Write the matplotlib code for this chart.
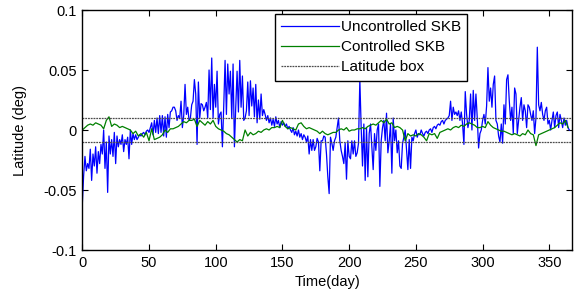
import numpy as np
import matplotlib
matplotlib.use('Agg')
import matplotlib.pyplot as plt

plt.rcParams['font.family'] = ['Liberation Sans', 'DejaVu Sans']

# latitude values in milli-degrees
# uncontrolled: one value per day, day 0..365
uncontrolled = [
    -62, -38, -22, -34, -28, -32, -16, -42, -20, -30,
    -14, -36, -18, -28, -12, -20, 0, -32, -10, -52,
    -5, -20, -8, -22, -2, -28, -5, -14, -8, -12,
    -4, -18, -8, -12, -6, -24, 0, -12, -3, -8,
    -4, -8, -6, -4, -5, -3, -2, -4, -1, 0,
    -2, 2, 6, -4, 8, -2, 10, -3, 12, -2,
    12, -5, 11, -6, 13, 2, 15, 16, 19, 19,
    16, 8, 12, 10, 24, 2, 12, 38, 13, 19,
    8, 10, 21, 24, 42, 30, -12, 40, 10, 22,
    21, 16, 19, 23, 10, 50, 17, 60, 10, 38,
    19, 49, 5, 13, 15, -14, 20, 58, 13, 55,
    30, 49, 10, 55, -14, 19, 49, 15, 58, 19,
    45, 8, 10, 16, 40, 12, 41, 20, 35, 11,
    38, 6, 25, 9, 30, 12, 17, 13, 8, 12,
    6, 10, 4, 9, 3, 11, 5, 8, 2, 7,
    4, 6, 3, 5, 1, 3, 0, -2, 2, -4,
    -1, -5, 0, -6, -3, -8, -4, -6, -10, -5,
    -20, -8, -17, -8, -17, -14, -7, -10, -34, -9,
    -9, -5, -6, -20, -39, -53, -6, -11, -17, -9,
    -6, 2, 10, -9, -17, -22, -28, -11, -41, -9,
    -22, -24, -9, -20, -9, -22, -19, -11, 42, 2,
    -30, 5, -42, 2, -39, -3, 5, -14, -33, -3,
    -17, 0, 5, -47, -9, 2, 8, -9, 14, -19,
    -9, 5, -36, 10, -9, 0, -19, -9, -30, -32,
    -11, -6, 0, -17, -33, -8, -32, -6, -9, -3,
    0, -6, -3, -4, 0, -3, -5, -2, -1, -3,
    0, 1, -2, 2, 3, 1, 4, 5, 4, 7,
    8, 5, 8, 9, 10, 12, 24, 8, 19, 13,
    15, 12, 16, 8, 15, 5, -12, 32, 13, 2,
    8, 30, 0, 33, 8, 30, 10, -15, -3, 0,
    8, 13, 5, 20, 52, 24, 35, 19, 38, 45,
    8, 5, -5, -10, 5, -11, 21, 5, 42, 46,
    24, 8, 19, -3, 35, 30, -3, 8, 19, 27,
    8, 21, 16, 2, 21, 19, 13, 8, 16, -3,
    10, 69, 21, 16, 23, 13, 8, 16, 19, 5,
    8, 0, 8, 15, 2, 12, 15, 2, 13, 8,
    2, 10, 4, 8, 2, 0,
]

# controlled: every second day, day 0..364
controlled = [
    0, 2, 4, 5, 4, 6, 5, 4, 1, 8,
    11, 3, 5, 4, 2, 3, 2, 1, 0, -3,
    -1, -5, -3, -6, -2, -9, 1, -8, -7, -6,
    -4, 0, -2, 1, 1, 2, 3, 5, 7, 6,
    8, 8, 9, 3, 8, 6, 4, 7, 5, 8,
    3, 1, 0, -1, -3, -4, -6, -8, -10, -8,
    -9, 0, -5, -2, -4, -3, -1, -2, 0, 1,
    0, 2, 2, 3, 2, 8, 3, 1, 2, 1,
    0, 5, 6, 3, 1, 2, 1, 0, -1, -3,
    -1, -3, -4, -3, -2, -2, 0, 1, 0, 2,
    -1, 0, 0, 1, 1, 2, 1, 3, 4, 5,
    4, 6, 8, 6, 9, 5, 6, 2, 3, 2,
    0, -9, -3, -5, -4, -5, -3, -4, -6, -9,
    -3, -4, -3, -7, -2, -1, 0, 1, 0, 2,
    3, 2, 4, 3, 5, 6, 5, 4, 2, 2,
    3, 2, 7, 4, 2, 1, 0, -1, -1, -2,
    -3, -4, -3, -4, -5, -3, -4, 0, -3, -4,
    -13, -4, -3, -2, -1, 0, 1, 2, 4, 6,
    5, 8, 2,
]

box_limit = 0.01
x_ticks = [0, 50, 100, 150, 200, 250, 300, 350]
y_ticks = [-0.1, -0.05, 0, 0.05, 0.1]
y_tick_labels = ['-0.1', '-0.05', '0', '0.05', '0.1']

days_u = np.arange(len(uncontrolled))
days_c = np.arange(len(controlled)) * 2
lat_u = np.array(uncontrolled) / 1000.0
lat_c = np.array(controlled) / 1000.0

fig = plt.figure(figsize=(5.76, 2.98), dpi=100)
ax = fig.add_axes([82.3 / 576, 48 / 298, 489.7 / 576, 240 / 298])

ax.plot(days_u, lat_u, color='#0000ff', lw=0.9, label='Uncontrolled SKB')
ax.plot(days_c, lat_c, color='#008000', lw=0.9, label='Controlled SKB')
ax.axhline(box_limit, color='0.3', lw=0.9, ls=(0, (1.5, 0.7)), label='Latitude box')
ax.axhline(-box_limit, color='0.3', lw=0.9, ls=(0, (1.5, 0.7)))

ax.set_xlim(0, 367)
ax.set_ylim(-0.1, 0.1)
ax.set_xticks(x_ticks)
ax.set_yticks(y_ticks)
ax.set_yticklabels(y_tick_labels)
ax.tick_params(direction='in', top=True, right=True, length=4, width=0.8,
               labelsize=10.5, pad=4)
for s in ax.spines.values():
    s.set_linewidth(1.0)

ax.set_xlabel('Time(day)', fontsize=10.5)
ax.set_ylabel('Latitude (deg)', fontsize=10.5)
ax.xaxis.set_label_coords(0.5, -0.105)
ax.yaxis.set_label_coords(-0.112, 0.5)

leg = ax.legend(loc='upper left', bbox_to_anchor=(0.3935, 0.983), borderaxespad=0,
                fontsize=11, handlelength=3.8, handletextpad=0.1, labelspacing=0.4,
                borderpad=0.4, fancybox=False, framealpha=1, edgecolor='black')
leg.get_frame().set_linewidth(1.0)
leg.set_zorder(5)

plt.savefig('out.png', dpi=100)
